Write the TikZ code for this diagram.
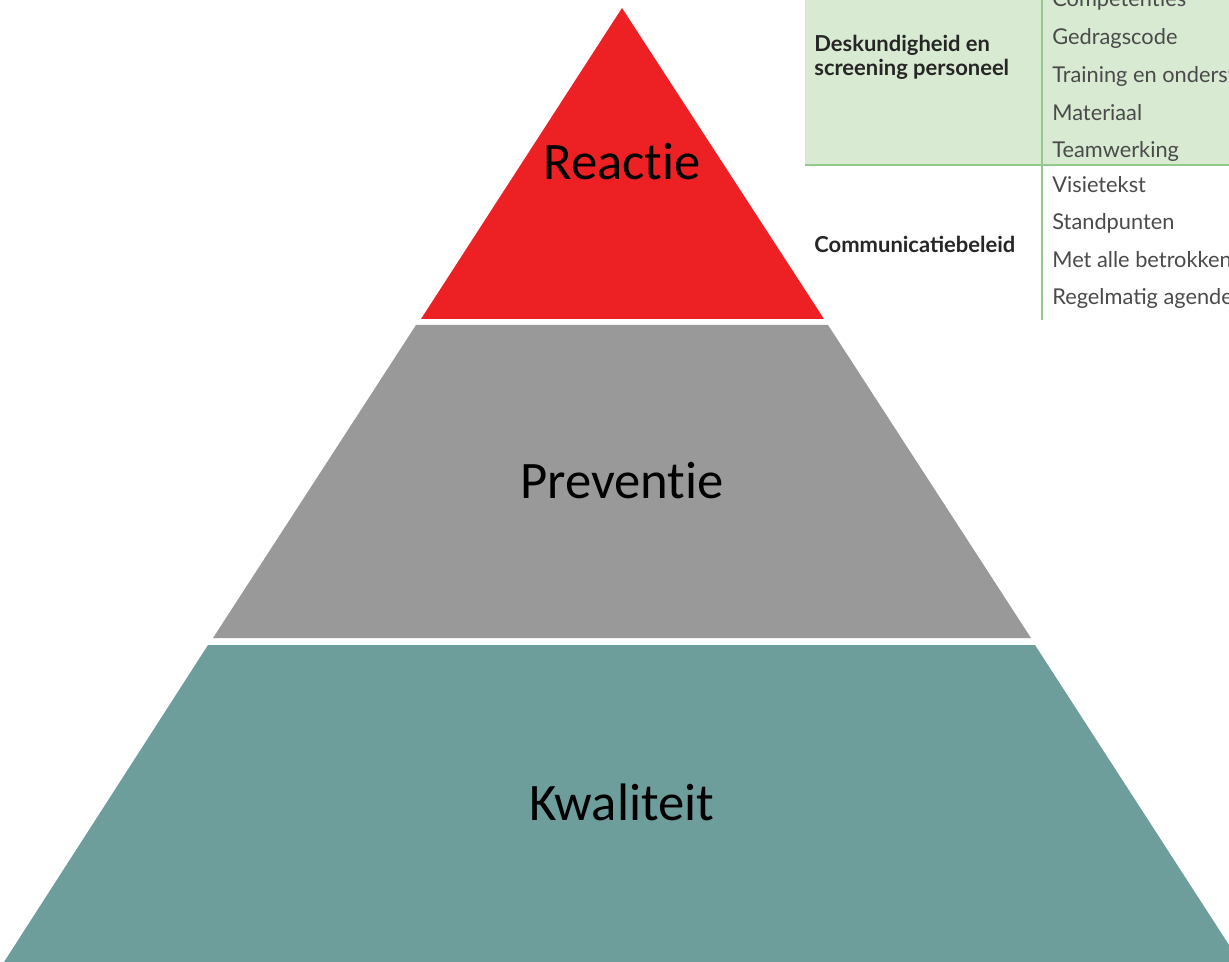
\documentclass[tikz,border=0pt]{standalone}
\usepackage{fontspec}
\setmainfont[Ligatures=NoCommon]{Carlito}
\newfontfamily\tabfont{Lato}
\usetikzlibrary{positioning}

\definecolor{reactred}{HTML}{ED2024}
\definecolor{prevgray}{HTML}{999999}
\definecolor{kwalteal}{HTML}{6D9E9C}
\definecolor{tabgreen}{HTML}{D9EAD3}
\definecolor{tabline}{HTML}{93C98B}
\definecolor{tabtext}{HTML}{4A4A4A}

\begin{document}
\begin{tikzpicture}[
      x=0.02cm, y=-0.02cm,
      lvl/.style={font=\fontsize{30}{36}\selectfont, text=black, inner sep=0pt},
      head/.style={font=\tabfont\bfseries\fontsize{12.5}{13.5}\selectfont, text=black!85,
                   align=left, anchor=west, inner sep=0pt},
      item/.style={font=\tabfont\fontsize{12.4}{14}\selectfont, text=tabtext,
                   anchor=west, inner sep=0pt},
      rule/.style={draw=tabline, line width=1pt},
    ]
      \useasboundingbox (0,0) rectangle (1229,962);
      \clip (0,0) rectangle (1229,962);

      % pyramid
      \fill[reactred] (622,8) -- (824,319) -- (421,319) -- cycle;
      \fill[prevgray] (416,325) -- (828,325) -- (1031,638) -- (213,638) -- cycle;
      \fill[kwalteal] (208,645) -- (1035,645) -- (1240,962) -- (4,962) -- cycle;

      \node[lvl] (reactie)   at (622,162) {Reactie};
      \node[lvl] (preventie) at (622,481) {Preventie};
      \node[lvl] (kwaliteit) at (622,802) {Kwaliteit};

      % table
      \fill[tabgreen] (805,-5) rectangle (1235,165);
      \draw[rule] (805,165) -- (1235,165);
      \draw[rule] (1042,-5) -- (1042,320);

      \node[head] (desk) at (814,57) {Deskundigheid en\\screening personeel};
      \node[head] (comm) at (814,244) {Communicatiebeleid};

      \node[item] (comp) at (1052,0)   {Competenties};
      \node[item] (gedr) at (1052,38)  {Gedragscode};
      \node[item] (trai) at (1052,76)  {Training en onderst};
      \node[item] (mate) at (1052,113) {Materiaal};
      \node[item] (team) at (1052,151) {Teamwerking};
      \node[item] (visi) at (1052,185) {Visietekst};
      \node[item] (stan) at (1052,223) {Standpunten};
      \node[item] (meta) at (1052,260) {Met alle betrokken};
      \node[item] (rege) at (1052,298) {Regelmatig agende};
    \end{tikzpicture}
\end{document}
